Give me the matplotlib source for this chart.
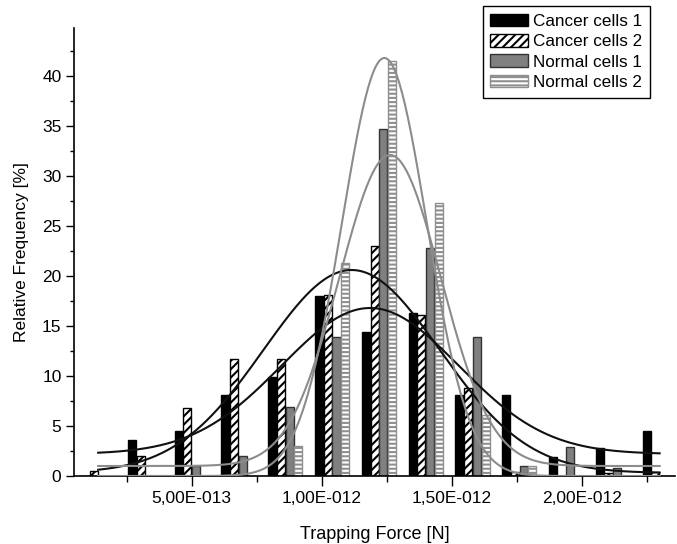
import numpy as np
import matplotlib
matplotlib.use("Agg")
from matplotlib import pyplot as plt
from matplotlib.ticker import FixedLocator, MultipleLocator

plt.rcParams["font.family"] = ["Liberation Sans", "DejaVu Sans"]
plt.rcParams["hatch.linewidth"] = 1.5

# bin centres in units of 1E-12 N
bin_centers = [0.14, 0.32, 0.50, 0.68, 0.86, 1.04, 1.22, 1.40, 1.58, 1.76, 1.94, 2.12, 2.30]

cancer1 = [0, 3.6, 4.5, 8.1, 9.9, 18.0, 14.4, 16.3, 8.1, 8.1, 1.9, 2.8, 4.5]
cancer2 = [0.5, 2.0, 6.8, 11.7, 11.7, 18.1, 23.0, 16.1, 8.8, 0.4, 0, 0.35, 0.4]
normal1 = [0, 0, 1.0, 2.0, 6.9, 13.9, 34.7, 22.8, 13.9, 1.0, 2.9, 0.8, 0]
normal2 = [0, 0, 0, 0, 3.0, 21.3, 41.5, 27.3, 6.1, 1.0, 0, 0, 0]

series_names = ["Cancer cells 1", "Cancer cells 2", "Normal cells 1", "Normal cells 2"]

# gauss fits: offset, height, centre (1E-12 N), sigma (1E-12 N)
fit_offset = [0.3, 2.2, 0.0, 1.0]
fit_height = [20.3, 14.6, 41.8, 31.1]
fit_center = [1.115, 1.186, 1.241, 1.263]
fit_sigma = [0.339, 0.34, 0.163, 0.195]
fit_colors = ["#111111", "#111111", "#8c8c8c", "#8c8c8c"]

xtick_pos = [0.5, 1.0, 1.5, 2.0]
xtick_labels = ["5,00E-013", "1,00E-012", "1,50E-012", "2,00E-012"]
xminor_pos = [0.25, 0.75, 1.25, 1.75, 2.25]

W, H = 677, 544
fig = plt.figure(figsize=(W / 100, H / 100), dpi=100)
ax = fig.add_axes([74 / W, 1 - 476 / H, (675 - 74) / W, (476 - 28) / H])

x = np.array(bin_centers) * 1e-12
step = 0.0335e-12
bw = 0.031e-12

styles = [
    dict(color="black", edgecolor="black"),
    dict(color="white", edgecolor="black", hatch="////"),
    dict(color="#808080", edgecolor="#333333"),
    dict(color="white", edgecolor="#8f8f8f", hatch="----"),
]
all_vals = [cancer1, cancer2, normal1, normal2]
for i, (vals, name, st) in enumerate(zip(all_vals, series_names, styles)):
    ax.bar(x + (i - 1.5) * step, vals, width=bw, linewidth=1.0, label=name, zorder=2, **st)

# fitted curves
xs = np.linspace(bin_centers[0], bin_centers[-1], 400)
for y0, h, xc, s, c in zip(fit_offset, fit_height, fit_center, fit_sigma, fit_colors):
    ys = y0 + h * np.exp(-(xs - xc) ** 2 / (2 * s ** 2))
    ax.plot(xs * 1e-12, ys, color=c, linewidth=1.5, zorder=3)

ax.set_xlim(0.047e-12, 2.359e-12)
ax.set_ylim(0, 44.8)

ax.xaxis.set_major_locator(FixedLocator([p * 1e-12 for p in xtick_pos]))
ax.set_xticklabels(xtick_labels)
ax.xaxis.set_minor_locator(FixedLocator([p * 1e-12 for p in xminor_pos]))
ax.yaxis.set_major_locator(MultipleLocator(5))
ax.yaxis.set_minor_locator(MultipleLocator(2.5))

ax.tick_params(axis="x", which="major", length=7, width=1, labelsize=12.5, pad=4)
ax.tick_params(axis="x", which="minor", length=4, width=1)
ax.tick_params(axis="y", which="major", length=6, width=1, labelsize=12.5, pad=3)
ax.tick_params(axis="y", which="minor", length=3, width=1)

for sp in ["top", "right"]:
    ax.spines[sp].set_visible(False)
for sp in ["left", "bottom"]:
    ax.spines[sp].set_linewidth(1.2)

ax.set_xlabel("Trapping Force [N]", fontsize=13, labelpad=14)
ax.set_ylabel("Relative Frequency [%]", fontsize=12.5, labelpad=9.5)

leg = ax.legend(loc="upper right", bbox_to_anchor=(650 / W, 1 - 6 / H),
                bbox_transform=fig.transFigure, borderaxespad=0, fancybox=False,
                fontsize=12.3, handlelength=2.2, handleheight=0.75, handletextpad=0.3,
                labelspacing=0.3, borderpad=0.45, framealpha=1)
leg.get_frame().set_edgecolor("black")
leg.get_frame().set_linewidth(1.0)

fig.savefig("out.png", dpi=100)
